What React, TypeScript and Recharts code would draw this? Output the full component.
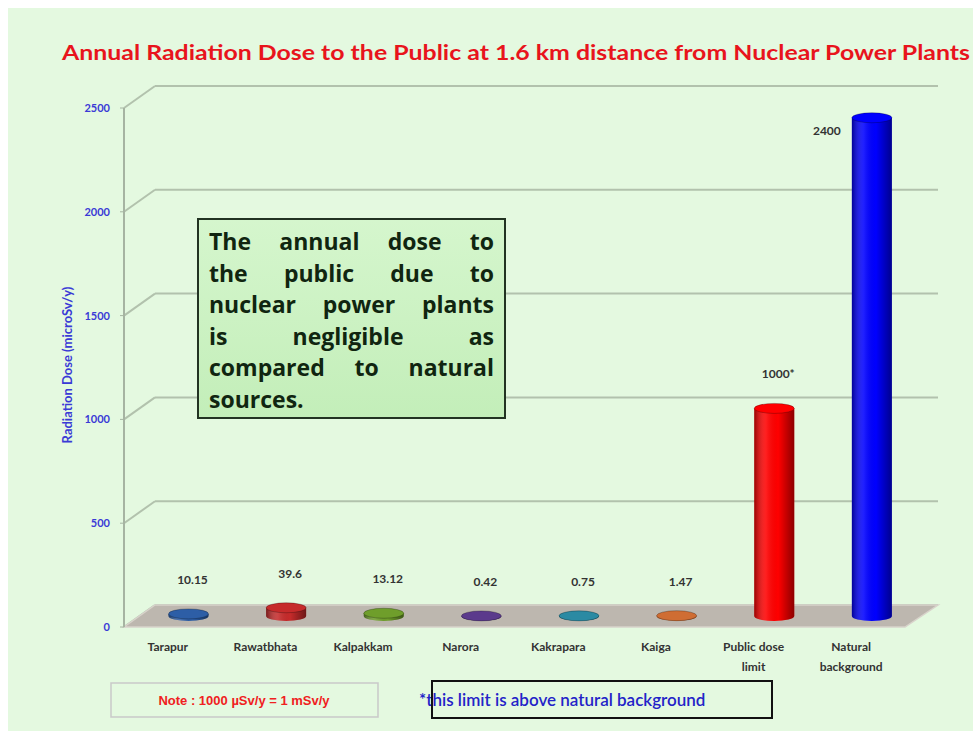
import React from 'react'
import { BarChart, Bar, XAxis, YAxis, CartesianGrid, ReferenceLine, LabelList } from 'recharts'

const plants = ['Tarapur', 'Rawatbhata', 'Kalpakkam', 'Narora', 'Kakrapara', 'Kaiga', 'Public dose\nlimit', 'Natural\nbackground']
const doses = [10.15, 39.6, 13.12, 0.42, 0.75, 1.47, 1000, 2400]
const doseLabels = ['10.15', '39.6', '13.12', '0.42', '0.75', '1.47', '1000*', '2400']
const yTicks = [0, 500, 1000, 1500, 2000, 2500]

const barColors = ['#2d5ea6', '#c62b2b', '#6f9e2b', '#5b3a8c', '#2b8aa3', '#cf6d33', '#ff0000', '#0000ff']

const data = plants.map((name, i) => ({ name, dose: doses[i] }))

const W = 973
const H = 731
const X_AXIS_H = 30
const MARGIN = { top: 108, right: 68, bottom: 104 - X_AXIS_H, left: 64 }

// fake 3D: bars sit at mid depth, gridlines on the back wall
const MID = { dx: 15.5, dy: -11 }
const BACK = { dx: 31, dy: -22 }

const gridColor = '#b2c2ad'
const font = 'Lato, "Open Sans", sans-serif'

function Cylinder(props: any) {
  const { x, y, width, height, index } = props
  const color = barColors[index]
  const left = x + MID.dx
  const top = y + MID.dy
  const rx = width / 2
  const ry = 5
  const h = Math.max(height, 0)
  const id = `shade-${index}`
  const body = `M${left},${top} L${left},${top + h} A${rx},${ry} 0 0 0 ${left + width},${top + h} L${left + width},${top} Z`
  return (
    <g>
      <defs>
        <linearGradient id={id} x1="0" y1="0" x2="1" y2="0">
          <stop offset="0%" stopColor="#000" stopOpacity={0.4} />
          <stop offset="30%" stopColor="#fff" stopOpacity={0.12} />
          <stop offset="60%" stopColor="#000" stopOpacity={0} />
          <stop offset="100%" stopColor="#000" stopOpacity={0.45} />
        </linearGradient>
      </defs>
      <path d={body} fill={color} />
      <path d={body} fill={`url(#${id})`} />
      <ellipse cx={left + rx} cy={top} rx={rx} ry={ry} fill={color} stroke="rgba(0,0,0,0.25)" strokeWidth={1} />
    </g>
  )
}

function DoseLabel(props: any) {
  const { x, y, width, index } = props
  const cx = x + width / 2 + MID.dx
  const top = y + MID.dy
  const style = { fontFamily: font, fontWeight: 700, fontSize: 12, fill: '#333' }
  // a tall bar leaves no room above it, so its label goes beside the top
  if (top - 30 < MARGIN.top) {
    return <text x={cx - 45} y={top + 17} textAnchor="middle" {...style}>{doseLabels[index]}</text>
  }
  return <text x={cx + 4} y={top - 30} textAnchor="middle" {...style}>{doseLabels[index]}</text>
}

function PlantTick({ x, y, payload }: any) {
  const lines = String(payload.value).split('\n')
  return (
    <text x={x - 5} y={y + 24} textAnchor="middle" fontFamily={font} fontWeight={700} fontSize={12} fill="#333">
      {lines.map((l, i) => (
        <tspan key={i} x={x - 5} dy={i === 0 ? 0 : 20}>{l}</tspan>
      ))}
    </text>
  )
}

function BackGridLine(props: any) {
  const { x1, x2, y1 } = props
  const bx = x1 + BACK.dx
  const by = y1 + BACK.dy
  return (
    <g>
      <line x1={x1} y1={y1} x2={bx} y2={by} stroke={gridColor} strokeWidth={2} />
      <line x1={bx} y1={by} x2={x2 + BACK.dx + 2} y2={by} stroke={gridColor} strokeWidth={2} />
    </g>
  )
}

function Floor(props: any) {
  const { x1, x2, y1 } = props
  const pts = `${x1},${y1} ${x2},${y1} ${x2 + BACK.dx + 2},${y1 + BACK.dy} ${x1 + BACK.dx},${y1 + BACK.dy}`
  return <polygon points={pts} fill="#bdb7af" stroke="#d8d3cb" strokeWidth={1.5} />
}

const boxLines = ['The annual dose to', 'the public due to', 'nuclear power plants', 'is negligible as', 'compared to natural', 'sources.']

export default function App() {
  return (
    <div style={{ position: 'absolute', left: 0, top: 0, width: W, height: H, background: '#fff', overflow: 'hidden' }}>
      <div style={{ position: 'absolute', left: 8, top: 8, width: W - 8, height: H - 8, background: '#e4f9e0' }} />
      <div style={{ position: 'absolute', left: 0, top: 0 }}>
        <BarChart width={W} height={H} data={data} margin={MARGIN} barSize={40}>
          <CartesianGrid vertical={false} horizontal={BackGridLine} />
          <ReferenceLine y={0} shape={Floor} zIndex={-50} />
          <XAxis dataKey="name" height={X_AXIS_H} axisLine={false} tickLine={false} tickSize={0} tickMargin={0} interval={0} tick={<PlantTick />} />
          <YAxis
            width={60}
            domain={[0, 2500]}
            ticks={yTicks}
            tickSize={4}
            tickMargin={10}
            axisLine={{ stroke: '#a6b4a2', strokeWidth: 2 }}
            tickLine={{ stroke: '#a6b4a2' }}
            tick={{ fill: '#3a3ad6', fontSize: 11, fontWeight: 700, fontFamily: font }}
          />
          <Bar dataKey="dose" shape={<Cylinder />} isAnimationActive={false}>
            <LabelList dataKey="dose" content={<DoseLabel />} />
          </Bar>
        </BarChart>
      </div>
      <svg width={W} height={H} style={{ position: 'absolute', left: 0, top: 0, pointerEvents: 'none' }}>
        <text x={62} y={60} textLength={908} lengthAdjust="spacingAndGlyphs" fontFamily={font} fontWeight={700} fontSize={20} fill="#e8141c">
          Annual Radiation Dose to the Public at 1.6 km distance from Nuclear Power Plants
        </text>
        <text x={0} y={0} transform="translate(72,365) rotate(-90)" textAnchor="middle" fontFamily={font} fontWeight={700} fontSize={13} fill="#3a3ad6">
          Radiation Dose (microSv/y)
        </text>
        <rect x={111} y={683} width={267} height={34} fill="none" stroke="#c9c9c9" strokeWidth={1.5} />
        <text x={244} y={705} textAnchor="middle" fontFamily="'Liberation Sans', Arial, sans-serif" fontWeight={700} fontSize={13} fill="#f02020">
          Note : 1000  µSv/y = 1 mSv/y
        </text>
        <text x={419} y={706} fontFamily={font} fontSize={17} fontWeight={600} fill="#2323c8">
          *this limit is above natural background
        </text>
        <rect x={432} y={681} width={340} height={37} fill="none" stroke="#111" strokeWidth={2} />
      </svg>
      <div
        style={{
          position: 'absolute',
          left: 197,
          top: 218,
          width: 309,
          height: 201,
          boxSizing: 'border-box',
          border: '2px solid #223322',
          background: 'linear-gradient(#d5f6cd, #c3eeb9)',
          padding: '6px 10px 0 10px',
          fontFamily: '"Open Sans", sans-serif',
          fontWeight: 700,
          fontSize: 23,
          lineHeight: '31.5px',
          color: '#102510',
        }}
      >
        {boxLines.map((l, i) => (
          <div key={i} style={{ textAlign: 'justify', textAlignLast: i === boxLines.length - 1 ? 'left' : 'justify', whiteSpace: 'nowrap' as const }}>
            {l}
          </div>
        ))}
      </div>
    </div>
  )
}
